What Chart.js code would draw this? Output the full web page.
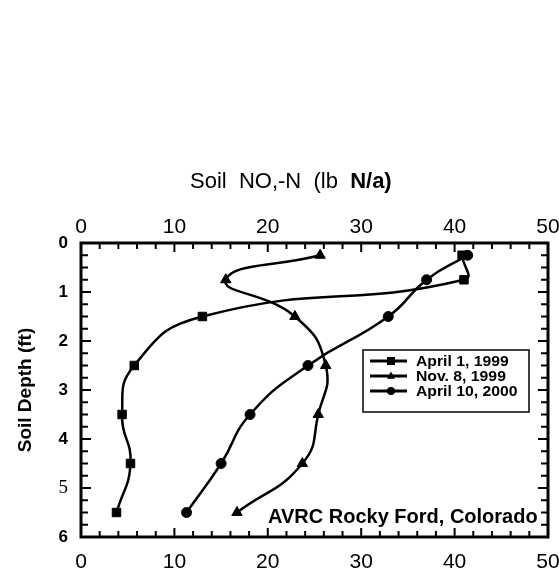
<!DOCTYPE html>
<html>
<head>
<meta charset="utf-8">
<script src="https://cdn.jsdelivr.net/npm/chart.js@4.4.1/dist/chart.umd.min.js"></script>
<style>
  html, body { margin: 0; padding: 0; background: #fff; }
  #wrap { width: 559px; height: 570px; }
</style>
</head>
<body>
<div id="wrap"><canvas id="chart"></canvas></div>
<script>
// depth of each sample (ft)
const depths = [0.25, 0.75, 1.5, 2.5, 3.5, 4.5, 5.5];
// soil NO3-N (lb N/a) per sampling date
const april1999 = [40.8, 41.0, 13.0, 5.7, 4.4, 5.3, 3.8];
const nov1999 = [25.6, 15.5, 22.9, 26.2, 25.4, 23.7, 16.7];
const april2000 = [41.4, 37.0, 32.9, 24.3, 18.1, 15.0, 11.3];
const seriesNames = ["April 1, 1999", "Nov. 8, 1999", "April 10, 2000"];
const seriesMarkers = ["rect", "triangle", "circle"];
const xRange = [0, 50];
const yRange = [0, 6];

const FONT = "'Liberation Sans', Arial, sans-serif";

function toPoints(vals) {
    return vals.map((v, i) => ({ x: v, y: depths[i] }));
}

function drawMarker(ctx, style, x, y, r) {
    ctx.beginPath();
    if (style == "rect") {
        ctx.rect(x - r, y - r, r * 2, r * 2);
    } else if (style == "triangle") {
        ctx.moveTo(x, y - r * 1.1);
        ctx.lineTo(x + r, y + r * 0.7);
        ctx.lineTo(x - r, y + r * 0.7);
        ctx.closePath();
    } else {
        ctx.arc(x, y, r, 0, Math.PI * 2);
    }
    ctx.fill();
}

//text stretched sideways, the scan has wide lettering
function wideText(ctx, text, x, y, sx) {
    ctx.save();
    ctx.translate(x, y);
    ctx.scale(sx, 1);
    ctx.fillText(text, 0, 0);
    ctx.restore();
}

//frame, inward ticks, legend box and the site label
const decorations = {
    id: "decorations",
    afterDraw(chart) {
        const ctx = chart.ctx;
        const a = chart.chartArea;
        const xs = chart.scales.x;
        const ys = chart.scales.y;
        ctx.save();
        ctx.strokeStyle = "#000";
        ctx.fillStyle = "#000";

        //inward ticks
        ctx.lineWidth = 2;
        ctx.beginPath();
        for (let v = xRange[0]; v <= xRange[1]; v += 2) {
            const px = xs.getPixelForValue(v);
            const len = v % 10 == 0 ? 9 : 6;
            ctx.moveTo(px, a.bottom); ctx.lineTo(px, a.bottom - len);
            ctx.moveTo(px, a.top); ctx.lineTo(px, a.top + len);
        }
        for (let v = yRange[0]; v <= yRange[1] + 0.001; v += 0.25) {
            const py = ys.getPixelForValue(v);
            const len = Math.abs(v - Math.round(v)) < 0.001 ? 10 : 7;
            ctx.moveTo(a.left, py); ctx.lineTo(a.left + len, py);
            ctx.moveTo(a.right, py); ctx.lineTo(a.right - len, py);
        }
        ctx.stroke();

        //legend
        const lx = 363, ly = 350, lw = 166, lh = 62;
        ctx.fillStyle = "#fff";
        ctx.fillRect(lx, ly, lw, lh);
        ctx.fillStyle = "#000";
        ctx.lineWidth = 1.5;
        ctx.strokeRect(lx, ly, lw, lh);
        ctx.font = "bold 15px " + FONT;
        ctx.textBaseline = "middle";
        ctx.textAlign = "left";
        seriesNames.forEach((name, i) => {
            const ry = 361 + i * 15;
            ctx.lineWidth = 3;
            ctx.beginPath();
            ctx.moveTo(370, ry); ctx.lineTo(407, ry);
            ctx.stroke();
            drawMarker(ctx, seriesMarkers[i], 391, ry, 4);
            wideText(ctx, name, 416, ry + 1, 1.05);
        });

        //site label
        ctx.font = "bold 20px " + FONT;
        ctx.textBaseline = "alphabetic";
        ctx.fillText("AVRC Rocky Ford, Colorado", 268, 523);

        //frame
        ctx.lineWidth = 3;
        ctx.strokeRect(a.left, a.top, a.right - a.left, a.bottom - a.top);

        //top axis title
        ctx.font = "22px " + FONT;
        const part1 = "Soil  NO,-N  (lb  ";
        ctx.fillText(part1, 190, 188);
        const w = ctx.measureText(part1).width;
        ctx.font = "bold 22px " + FONT;
        ctx.fillText("N/a)", 190 + w, 188);
        ctx.restore();
    }
};

const baseX = {
    type: "linear",
    min: xRange[0],
    max: xRange[1],
    grid: { display: false, drawTicks: false },
    border: { display: false },
    ticks: {
        stepSize: 10,
        maxRotation: 0,
        color: "#000",
        font: { family: FONT, size: 21 }
    }
};

function fitX(h) {
    return s => {
        s.height = h;
        s.paddingLeft = 0;
        s.paddingRight = 11;
    };
}

const chart = new Chart(document.getElementById("chart"), {
    type: "scatter",
    data: {
        datasets: [
            {
                label: seriesNames[0],
                data: toPoints(april1999),
                pointStyle: "rect",
                pointRadius: 6
            },
            {
                label: seriesNames[1],
                data: toPoints(nov1999),
                pointStyle: "triangle",
                pointRadius: 6
            },
            {
                label: seriesNames[2],
                data: toPoints(april2000),
                pointStyle: "circle",
                pointRadius: 5
            }
        ].map(d => Object.assign(d, {
            showLine: true,
            tension: 0.5,
            borderColor: "#000",
            backgroundColor: "#000",
            borderWidth: 2.5,
            pointBackgroundColor: "#000",
            pointBorderColor: "#000",
            pointBorderWidth: 1
        }))
    },
    options: {
        responsive: true,
        maintainAspectRatio: false,
        animation: false,
        layout: { padding: 0 },
        plugins: {
            legend: { display: false },
            tooltip: { enabled: false }
        },
        scales: {
            x: Object.assign({}, baseX, {
                position: "bottom",
                ticks: Object.assign({}, baseX.ticks, { padding: 13 }),
                afterFit: fitX(33)
            }),
            x2: Object.assign({}, baseX, {
                position: "top",
                ticks: Object.assign({}, baseX.ticks, { padding: 3 }),
                afterFit: fitX(243)
            }),
            y: {
                type: "linear",
                reverse: true,
                min: yRange[0],
                max: yRange[1],
                grid: { display: false, drawTicks: false },
                border: { display: false },
                ticks: {
                    stepSize: 1,
                    padding: 13,
                    color: "#000",
                    //the 5 is set in a serif face on the original
                    font: c => c.tick && c.tick.value == 5
                        ? { family: "'Liberation Serif', serif", size: 19, weight: "normal" }
                        : { family: FONT, size: 17, weight: "bold" }
                },
                title: {
                    display: true,
                    text: "Soil Depth (ft)",
                    color: "#000",
                    font: { family: FONT, size: 19, weight: "bold" },
                    padding: { top: 14, bottom: 0 }
                },
                afterFit: s => { s.width = 81; }
            }
        }
    },
    plugins: [decorations]
});
</script>
</body>
</html>
